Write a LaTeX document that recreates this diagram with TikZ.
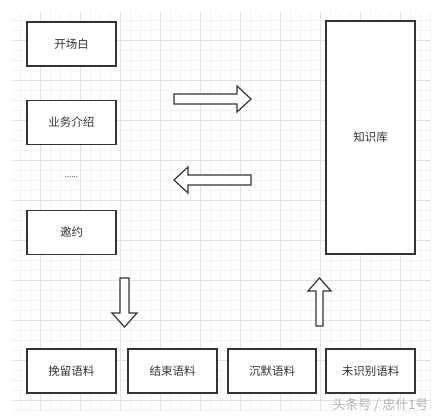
\documentclass[tikz,border=0pt]{standalone}
\usepackage{fontspec}
\setmainfont{Noto Sans CJK SC}
\definecolor{boxline}{HTML}{333333}
\definecolor{gridmajor}{HTML}{E2E2E2}
\definecolor{gridminor}{HTML}{F2F2F2}
\tikzset{
  box/.style = {draw = boxline, line width = 1.4pt, fill = white, minimum width = 89pt, minimum height = 44pt, font = \fontsize{11.5}{13}\selectfont, text = black!80},
  blockarrow/.style = {draw = boxline, line width = 1.2pt, fill = white, line join = miter}
}
\begin{document}
\begin{tikzpicture}[x = 1pt, y = -1pt]
        \useasboundingbox[fill = white] (0, 0) rectangle (437, 418);
        % background grid
        \foreach \gx in {20, 30, ..., 430}
            \draw[gridminor, line width = 0.5pt] (\gx, 12) -- (\gx, 410);
        \foreach \gy in {20, 30, ..., 410}
            \draw[gridminor, line width = 0.5pt] (13, \gy) -- (430, \gy);
        \foreach \gx in {40, 80, ..., 400}
            \draw[gridmajor, line width = 0.7pt] (\gx, 12) -- (\gx, 410);
        \foreach \gy in {40, 80, ..., 400}
            \draw[gridmajor, line width = 0.7pt] (13, \gy) -- (430, \gy);
        % left column
        \node[box] (kaichang) at (71.5, 44) {开场白};
        \node[box] (yewu) at (71.5, 122.5) {业务介绍};
        \node[font = \fontsize{8}{9}\selectfont, text = black!70] (dots) at (71.5, 177) {......};
        \node[box] (yaoyue) at (71.5, 232.5) {邀约};
        % knowledge base
        \node[box, minimum height = 233pt] (zsk) at (370.5, 137.5) {知识库};
        % bottom row
        \node[box] (wanliu) at (71.5, 371) {挽留语料};
        \node[box] (jieshu) at (172.5, 371) {结束语料};
        \node[box, minimum width = 88pt] (chenmo) at (272, 371) {沉默语料};
        \node[box] (weishibie) at (370.5, 371) {未识别语料};
        % block arrows
        \draw[blockarrow] (174, 94) -- (237, 94) -- (237, 86) -- (251, 99) -- (237, 112) -- (237, 104) -- (174, 104) -- cycle;
        \draw[blockarrow] (251, 175) -- (188, 175) -- (188, 167) -- (174, 180) -- (188, 193) -- (188, 185) -- (251, 185) -- cycle;
        \draw[blockarrow] (120, 278) -- (129, 278) -- (129, 313) -- (137, 313) -- (124.5, 327) -- (112, 313) -- (120, 313) -- cycle;
        \draw[blockarrow] (316, 326) -- (316, 291) -- (308, 291) -- (319.5, 278) -- (331, 291) -- (323, 291) -- (323, 326) -- cycle;
        % watermark
        \node[font = \fontsize{13}{15}\selectfont, text = black!30, anchor = east] (mark) at (432, 405) {头条号 / 忠什1号};
    \end{tikzpicture}
\end{document}
